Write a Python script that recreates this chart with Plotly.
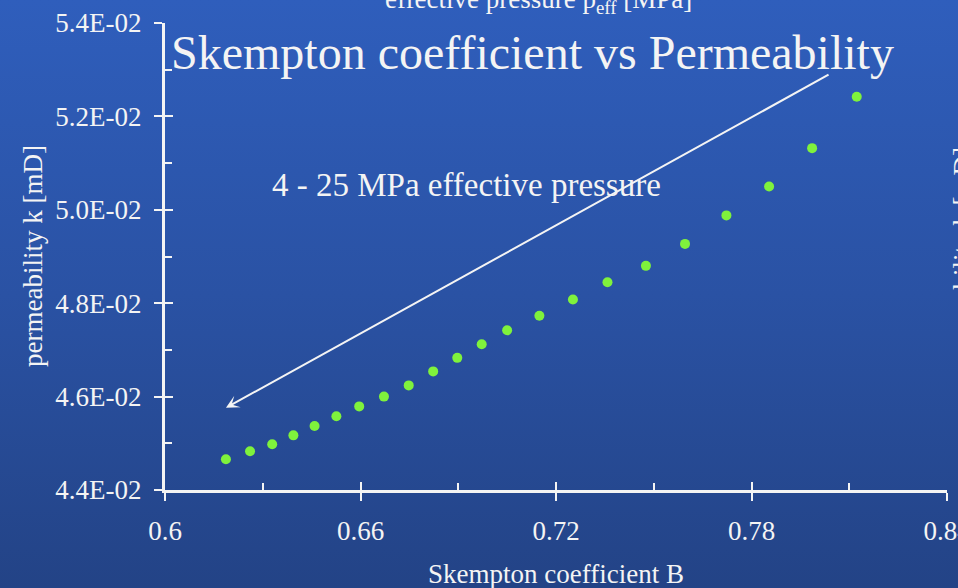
import base64
import plotly.graph_objects as go

# Skempton coefficient B vs permeability k, 4 - 25 MPa effective pressure
skempton_b = [0.6187, 0.6261, 0.6329, 0.6394, 0.6459, 0.6526, 0.6596, 0.6672,
              0.6748, 0.6823, 0.6897, 0.6972, 0.7050, 0.7149, 0.7252, 0.7358,
              0.7476, 0.7596, 0.7723, 0.7854, 0.7986, 0.8123]
permeability = [0.04466, 0.04483, 0.04498, 0.04517, 0.04537, 0.04558, 0.04579,
                0.04600, 0.04624, 0.04654, 0.04683, 0.04712, 0.04742, 0.04773,
                0.04808, 0.04845, 0.04880, 0.04927, 0.04988, 0.05050, 0.05132,
                0.05242]

x_ticks = [0.6, 0.66, 0.72, 0.78, 0.84]
x_tick_text = ["0.6", "0.66", "0.72", "0.78", "0.84"]
x_minor = [0.63, 0.69, 0.75, 0.81]
y_ticks = [0.044, 0.046, 0.048, 0.050, 0.052, 0.054]
y_tick_text = ["4.4E-02", "4.6E-02", "4.8E-02", "5.0E-02", "5.2E-02", "5.4E-02"]
y_minor = [0.045, 0.047, 0.049, 0.051, 0.053]

# arrow spanning the pressure range (head at low-pressure end)
arrow_head = (0.6187, 0.04576)
arrow_tail = (0.8041, 0.05291)

W, H = 958, 588
L, R, T, B = 165, 11, 23, 98
PW, PH = W - L - R, H - T - B

FONT = "Liberation Serif, Times New Roman, serif"
WHITE = "#f4f4f4"

grad_svg = (
    f'<svg xmlns="http://www.w3.org/2000/svg" width="{W}" height="{H}">'
    '<defs><linearGradient id="g" x1="0" y1="0" x2="0" y2="1">'
    '<stop offset="0" stop-color="#2f5ebc"/>'
    '<stop offset="0.5" stop-color="#2a52a4"/>'
    '<stop offset="1" stop-color="#234386"/>'
    '</linearGradient></defs>'
    f'<rect width="{W}" height="{H}" fill="url(#g)"/></svg>'
)
grad_uri = "data:image/svg+xml;base64," + base64.b64encode(grad_svg.encode()).decode()

fig = go.Figure()
fig.add_trace(go.Scatter(
    x=skempton_b, y=permeability, mode="markers",
    marker=dict(color="#7ff23c", size=10, line=dict(width=0)),
    hoverinfo="x+y", showlegend=False,
))

axis_common = dict(showgrid=False, zeroline=False, automargin=False)

fig.update_layout(
    width=W, height=H,
    margin=dict(l=L, r=R, t=T, b=B, autoexpand=False),
    paper_bgcolor="#2a52a4",
    plot_bgcolor="rgba(0,0,0,0)",
    font=dict(family=FONT, color=WHITE, size=27),
    xaxis=dict(
        range=[0.6, 0.84], tickmode="array", tickvals=x_ticks, ticktext=x_tick_text,
        ticks="outside", ticklen=8, tickwidth=2, tickcolor=WHITE,
        showline=True, linewidth=3, linecolor=WHITE,
        tickfont=dict(size=27, color=WHITE, family=FONT),
        ticklabelstandoff=7, ticklabeloverflow="allow",
        minor=dict(tickmode="array", tickvals=x_minor, ticks="inside",
                   ticklen=7, tickwidth=2, tickcolor=WHITE),
        **axis_common,
    ),
    yaxis=dict(
        range=[0.044, 0.054], tickmode="array", tickvals=y_ticks, ticktext=y_tick_text,
        ticks="outside", ticklen=8, tickwidth=2, tickcolor=WHITE,
        showline=True, linewidth=3, linecolor=WHITE,
        tickfont=dict(size=27, color=WHITE, family=FONT),
        ticklabelstandoff=7, ticklabeloverflow="allow",
        minor=dict(tickmode="array", tickvals=y_minor, ticks="inside",
                   ticklen=7, tickwidth=2, tickcolor=WHITE),
        **axis_common,
    ),
    # inner halves of the major ticks, so they cross the axis lines
    xaxis2=dict(
        range=[0.6, 0.84], overlaying="x", anchor="y", side="bottom",
        tickmode="array", tickvals=x_ticks, ticks="inside", ticklen=8,
        tickwidth=2, tickcolor=WHITE, showticklabels=False, showline=False,
        **axis_common,
    ),
    yaxis2=dict(
        range=[0.044, 0.054], overlaying="y", anchor="x", side="left",
        tickmode="array", tickvals=y_ticks, ticks="inside", ticklen=8,
        tickwidth=2, tickcolor=WHITE, showticklabels=False, showline=False,
        **axis_common,
    ),
    images=[dict(
        source=grad_uri, xref="paper", yref="paper",
        x=-L / PW, y=1 + T / PH, sizex=W / PW, sizey=H / PH,
        xanchor="left", yanchor="top", sizing="stretch", layer="below",
    )],
)

# empty trace keeps the overlay axes drawn
fig.add_trace(go.Scatter(x=[], y=[], xaxis="x2", yaxis="y2", showlegend=False,
                         hoverinfo="skip"))


def px_x(p):
    return (p - L) / PW


def px_y(p):
    return (H - B - p) / PH


annotations = [
    ("Skempton coefficient vs Permeability", 532, 52, 48, 0),
    ("effective pressure p<sub>eff</sub> [MPa]", 538, 1, 27, 0),
    ("4 - 25 MPa effective pressure", 466, 185, 33, 0),
    ("permeability k [mD]", 33, 256, 27, -90),
    ("permeability k [mD]", 963, 258, 27, -90),
    ("Skempton coefficient B", 556, 574, 27, 0),
]
for text, px, py, size, angle in annotations:
    fig.add_annotation(text=text, x=px_x(px), y=px_y(py), textangle=angle,
                       xref="paper", yref="paper", showarrow=False,
                       xanchor="center", yanchor="middle",
                       font=dict(family=FONT, color=WHITE, size=size))

fig.add_annotation(
    x=arrow_head[0], y=arrow_head[1], ax=arrow_tail[0], ay=arrow_tail[1],
    xref="x", yref="y", axref="x", ayref="y", text="",
    showarrow=True, arrowhead=3, arrowsize=1.1, arrowwidth=2, arrowcolor=WHITE,
)

fig.write_html("out.html")
